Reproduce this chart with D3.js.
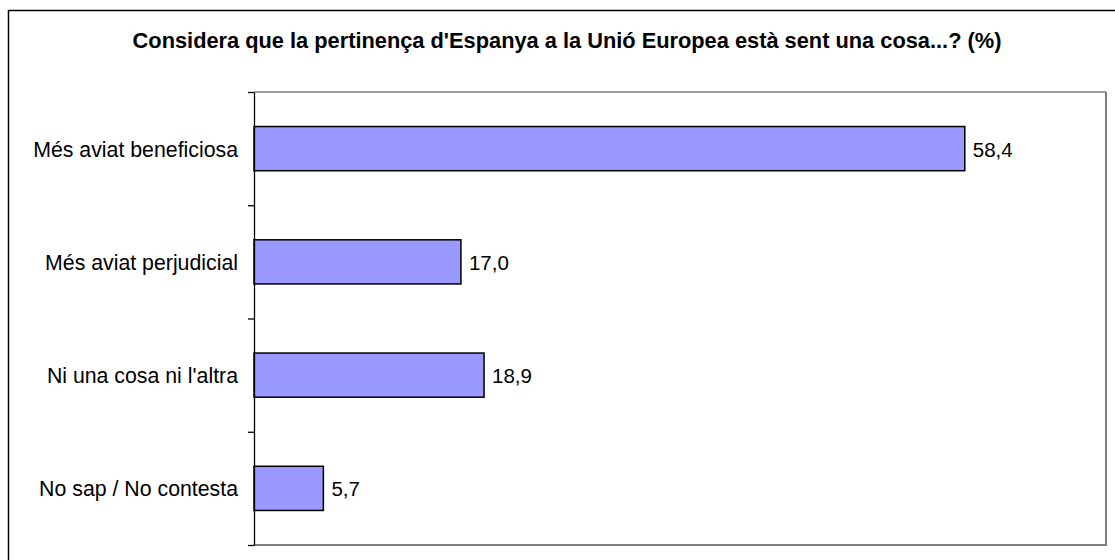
<!DOCTYPE html>
<html>
<head>
<meta charset="utf-8">
<script src="https://cdn.jsdelivr.net/npm/d3@7"></script>
<style>
  body { margin: 0; background: #fff; }
  text { font-family: "Liberation Sans", Arial, sans-serif; fill: #000; }
</style>
</head>
<body>
<div id="chart"></div>
<script>
// data
var categories = ["Més aviat beneficiosa", "Més aviat perjudicial", "Ni una cosa ni l'altra", "No sap / No contesta"];
var values = [58.4, 17.0, 18.9, 5.7];
var title = "Considera que la pertinença d'Espanya a la Unió Europea està sent una cosa...? (%)";
var xMax = 70;

var width = 1115, height = 560;
var plot = {left: 254, top: 92, right: 1106, bottom: 545};

var svg = d3.select("#chart").append("svg")
    .attr("width", width)
    .attr("height", height);

// outer chart frame (runs off the right and bottom edges)
svg.append("rect")
    .attr("x", 8.5).attr("y", 10.5)
    .attr("width", 1125).attr("height", 570)
    .attr("fill", "#fff")
    .attr("stroke", "#000")
    .attr("stroke-width", 1.5);

svg.append("text")
    .attr("x", 567).attr("y", 47.5)
    .attr("text-anchor", "middle")
    .style("font-size", "21.8px")
    .style("font-weight", "bold")
    .text(title);

var x = d3.scaleLinear().domain([0, xMax]).range([plot.left, plot.right]);
var y = d3.scaleBand().domain(categories).range([plot.top, plot.bottom]).padding(0);
var barH = y.bandwidth() * 0.39;
var fmt = d3.formatLocale({decimal: ",", thousands: ".", grouping: [3], currency: ["", "€"]}).format(".1f");

// plot frame, gray
var frame = svg.append("g").attr("fill", "none").attr("stroke", "#808080");
frame.append("line")
    .attr("x1", plot.left).attr("x2", plot.right)
    .attr("y1", plot.top).attr("y2", plot.top)
    .attr("stroke-width", 1.5);
frame.append("line")
    .attr("x1", plot.right).attr("x2", plot.right)
    .attr("y1", plot.top).attr("y2", plot.bottom + 1)
    .attr("stroke-width", 2);
frame.append("line")
    .attr("x1", plot.left).attr("x2", plot.right + 1)
    .attr("y1", plot.bottom).attr("y2", plot.bottom)
    .attr("stroke-width", 2);

// bars
svg.append("g").selectAll("rect")
    .data(values)
    .enter().append("rect")
    .attr("x", x(0))
    .attr("y", function(d, i) { return y(categories[i]) + (y.bandwidth() - barH) / 2; })
    .attr("width", function(d) { return x(d) - x(0); })
    .attr("height", barH)
    .attr("fill", "#9999ff")
    .attr("stroke", "#000")
    .attr("stroke-width", 1.5);

// value labels
svg.append("g").selectAll("text")
    .data(values)
    .enter().append("text")
    .attr("x", function(d) { return x(d) + 8; })
    .attr("y", function(d, i) { return y(categories[i]) + y.bandwidth() / 2; })
    .attr("dy", "0.39em")
    .style("font-size", "20.5px")
    .text(function(d) { return fmt(d); });

// category axis: ticks sit on band edges, labels at band centres
var edge = d3.scaleLinear().domain([0, categories.length]).range([plot.top, plot.bottom]);
var axis = svg.append("g")
    .attr("transform", "translate(" + plot.left + ",0)")
    .call(d3.axisLeft(edge).tickValues(d3.range(categories.length + 1)).tickSize(6).tickSizeOuter(0).tickFormat(""));
axis.selectAll("line, path").attr("stroke", "#000").attr("stroke-width", 1.3);

svg.append("g").selectAll("text")
    .data(categories)
    .enter().append("text")
    .attr("x", plot.left - 16)
    .attr("y", function(d) { return y(d) + y.bandwidth() / 2; })
    .attr("dy", "0.38em")
    .attr("text-anchor", "end")
    .style("font-size", "21.3px")
    .text(function(d) { return d; });
</script>
</body>
</html>
